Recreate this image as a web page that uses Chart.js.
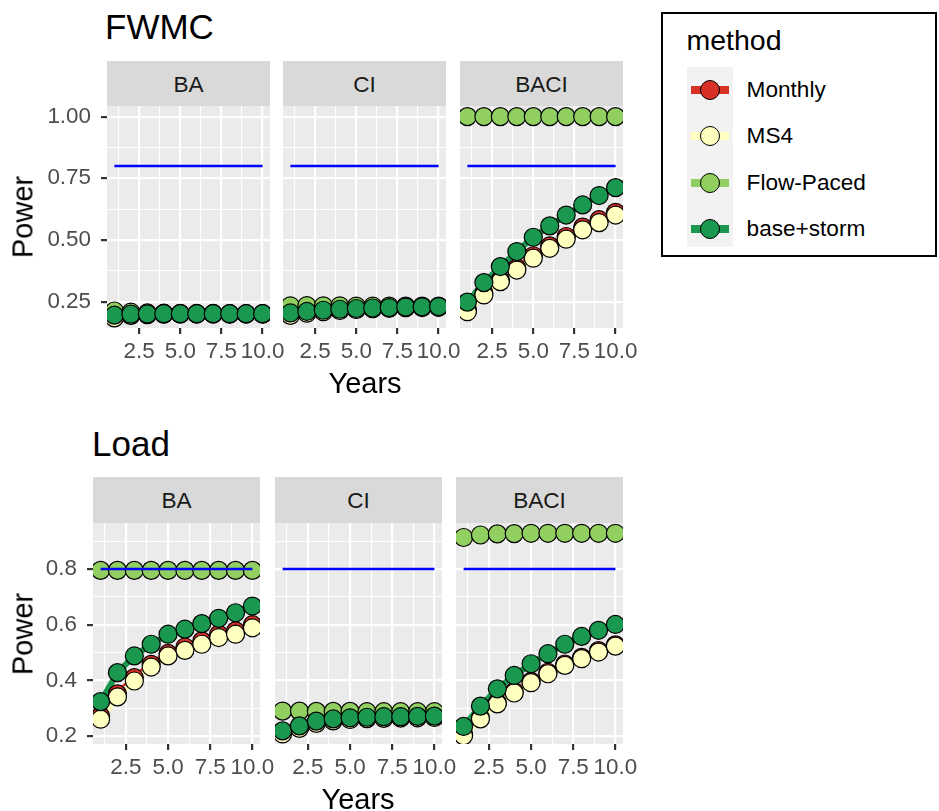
<!DOCTYPE html>
<html>
<head>
<meta charset="utf-8">
<script src="https://cdn.jsdelivr.net/npm/chart.js@4.4.1/dist/chart.umd.min.js"></script>
<style>
  body { margin: 0; width: 939px; height: 811px; position: relative; overflow: hidden; background: #fff;
         font-family: "Liberation Sans", Arial, sans-serif; }
  canvas { position: absolute; }
</style>
</head>
<body>
<script>
const years = [1, 2, 3, 4, 5, 6, 7, 8, 9, 10];
const methods = ["Monthly", "MS4", "Flow-Paced", "base+storm"];
const methodColors = ["#D73027", "#FFFFBF", "#91CF60", "#1A9850"];
const designs = ["BA", "CI", "BACI"];

const yearTicks = [2.5, 5, 7.5, 10];
const yearMinor = [1.25, 3.75, 6.25, 8.75];
const fwmcTicks = [0.25, 0.5, 0.75, 1];
const fwmcMinor = [0.375, 0.625, 0.875];
const loadTicks = [0.2, 0.4, 0.6, 0.8];
const loadMinor = [0.3, 0.5, 0.7, 0.9];

const targetYears = [1, 10];
const targetPower = 0.8;

// rows follow the order of methods
const fwmcBA = [
  [0.187, 0.195, 0.198, 0.200, 0.200, 0.200, 0.200, 0.200, 0.200, 0.200],
  [0.184, 0.194, 0.197, 0.199, 0.200, 0.200, 0.200, 0.200, 0.200, 0.200],
  [0.212, 0.207, 0.204, 0.203, 0.202, 0.202, 0.202, 0.201, 0.201, 0.201],
  [0.195, 0.199, 0.200, 0.201, 0.201, 0.201, 0.201, 0.201, 0.201, 0.201]
];
const fwmcCI = [
  [0.197, 0.205, 0.211, 0.216, 0.219, 0.222, 0.224, 0.226, 0.227, 0.228],
  [0.194, 0.203, 0.209, 0.214, 0.218, 0.221, 0.223, 0.225, 0.226, 0.227],
  [0.233, 0.234, 0.233, 0.233, 0.232, 0.232, 0.232, 0.232, 0.232, 0.232],
  [0.204, 0.210, 0.215, 0.219, 0.222, 0.224, 0.226, 0.228, 0.229, 0.230]
];
const fwmcBACI = [
  [0.215, 0.285, 0.338, 0.386, 0.436, 0.476, 0.514, 0.552, 0.582, 0.612],
  [0.209, 0.277, 0.331, 0.378, 0.426, 0.466, 0.503, 0.541, 0.570, 0.601],
  [1.000, 1.000, 1.000, 1.000, 1.000, 1.000, 1.000, 1.000, 1.000, 1.000],
  [0.248, 0.327, 0.392, 0.453, 0.511, 0.557, 0.601, 0.642, 0.680, 0.712]
];
const loadBA = [
  [0.272, 0.352, 0.410, 0.458, 0.497, 0.520, 0.542, 0.566, 0.578, 0.600],
  [0.261, 0.341, 0.398, 0.448, 0.488, 0.508, 0.530, 0.554, 0.566, 0.589],
  [0.795, 0.795, 0.795, 0.795, 0.795, 0.795, 0.795, 0.795, 0.795, 0.795],
  [0.324, 0.428, 0.488, 0.530, 0.566, 0.584, 0.604, 0.623, 0.643, 0.667]
];
const loadCI = [
  [0.212, 0.232, 0.250, 0.258, 0.262, 0.265, 0.266, 0.267, 0.268, 0.269],
  [0.208, 0.228, 0.246, 0.255, 0.260, 0.263, 0.264, 0.265, 0.266, 0.267],
  [0.290, 0.290, 0.289, 0.289, 0.289, 0.288, 0.288, 0.288, 0.288, 0.288],
  [0.219, 0.237, 0.254, 0.262, 0.266, 0.268, 0.270, 0.270, 0.271, 0.272]
];
const loadBACI = [
  [0.206, 0.266, 0.320, 0.360, 0.397, 0.429, 0.459, 0.483, 0.507, 0.528],
  [0.202, 0.262, 0.316, 0.355, 0.392, 0.424, 0.454, 0.478, 0.502, 0.523],
  [0.913, 0.922, 0.926, 0.927, 0.928, 0.928, 0.928, 0.928, 0.928, 0.928],
  [0.235, 0.308, 0.370, 0.418, 0.460, 0.496, 0.530, 0.558, 0.580, 0.601]
];

const FONT = '"Liberation Sans", Arial, sans-serif';
Chart.defaults.font.family = FONT;

const figures = [
  { title: "FWMC", panels: [fwmcBA, fwmcCI, fwmcBACI], ticks: fwmcTicks, minor: fwmcMinor, digits: 2,
    ymin: 0.143, ymax: 1.043, lefts: [107, 283, 460], w: 163, top: 106, h: 222,
    stripTop: 61, titleLeft: 105, titleTop: 9, yearsY: 383.3 },
  { title: "Load", panels: [loadBA, loadCI, loadBACI], ticks: loadTicks, minor: loadMinor, digits: 1,
    ymin: 0.172, ymax: 0.965, lefts: [93, 275, 456], w: 167, top: 523, h: 221,
    stripTop: 477, titleLeft: 92, titleTop: 426, yearsY: 799.3 }
];

function addDiv(txt, css) {
  const d = document.createElement("div");
  d.textContent = txt;
  d.style.cssText = "position:absolute;white-space:nowrap;line-height:1;" + css;
  document.body.appendChild(d);
  return d;
}

function tickBuilder(majors, minors) {
  return scale => {
    scale.ticks = majors.map(v => ({ value: v, minor: false }))
      .concat(minors.map(v => ({ value: v, minor: true })))
      .sort((a, b) => a.value - b.value);
  };
}

const panelBg = {
  id: "panelBg",
  beforeDraw(chart) {
    const a = chart.chartArea;
    chart.ctx.save();
    chart.ctx.fillStyle = "#EBEBEB";
    chart.ctx.fillRect(a.left, a.top, a.right - a.left, a.bottom - a.top);
    chart.ctx.restore();
  }
};

const MR = 26, XH = 52;

function gridOpts(drawTicks) {
  return {
    color: "#FFFFFF",
    lineWidth: c => (c.tick && c.tick.minor ? 1.1 : 2.2),
    drawTicks: drawTicks,
    tickLength: 6,
    tickColor: c => (c.tick && c.tick.minor ? "rgba(0,0,0,0)" : "#333333"),
    tickWidth: 2.2
  };
}

function makePanel(fig, p) {
  const left = fig.lefts[p];
  const yw = p === 0 ? left : 0;
  const cv = document.createElement("canvas");
  cv.width = yw + fig.w + MR;
  cv.height = fig.h + XH;
  cv.style.left = (left - yw) + "px";
  cv.style.top = fig.top + "px";
  cv.style.width = cv.width + "px";
  cv.style.height = cv.height + "px";
  document.body.appendChild(cv);

  const rows = fig.panels[p];
  const datasets = [{
    data: targetYears.map(x => ({ x: x, y: targetPower })),
    borderColor: "#0000FF", borderWidth: 2.6, pointRadius: 0, order: 0
  }];
  rows.forEach((vals, m) => {
    const pts = years.map((x, i) => ({ x: x, y: vals[i] }));
    datasets.push({
      data: pts, showLine: false, pointRadius: 9,
      pointBackgroundColor: methodColors[m], pointBorderColor: "#000000", pointBorderWidth: 1.2,
      order: 4 - m
    });
    datasets.push({
      data: pts, borderColor: methodColors[m], borderWidth: 6, pointRadius: 0, order: 8 - m
    });
  });

  new Chart(cv.getContext("2d"), {
    type: "line",
    data: { datasets: datasets },
    options: {
      responsive: false,
      animation: false,
      devicePixelRatio: 1,
      layout: { autoPadding: false, padding: { left: 0, top: 0, right: MR, bottom: 0 } },
      plugins: { legend: { display: false }, tooltip: { enabled: false } },
      elements: { line: { tension: 0 } },
      scales: {
        x: {
          type: "linear", min: 0.55, max: 10.45,
          afterBuildTicks: tickBuilder(yearTicks, yearMinor),
          afterFit: s => { s.height = XH; s.paddingLeft = 0; s.paddingRight = 0; },
          grid: gridOpts(true),
          border: { display: false },
          ticks: {
            autoSkip: false, maxRotation: 0, minRotation: 0, padding: 4,
            color: "#4D4D4D", font: { size: 22.4 },
            callback: (v, i, t) => (t[i].minor ? "" : v.toFixed(1))
          }
        },
        y: {
          type: "linear", min: fig.ymin, max: fig.ymax,
          afterBuildTicks: tickBuilder(fig.ticks, fig.minor),
          afterFit: s => { s.width = yw; s.paddingTop = 0; s.paddingBottom = 0; },
          grid: gridOpts(p === 0),
          border: { display: false },
          ticks: {
            display: p === 0, autoSkip: false, padding: 10,
            color: "#4D4D4D", font: { size: 22.4 },
            callback: (v, i, t) => (t[i].minor ? "" : v.toFixed(fig.digits))
          }
        }
      }
    },
    plugins: [panelBg]
  });
}

figures.forEach(fig => {
  for (let p = 0; p < 3; p++) makePanel(fig, p);
  const sh = fig.top - fig.stripTop;
  designs.forEach((d, p) => {
    addDiv(d, `left:${fig.lefts[p]}px;top:${fig.stripTop}px;width:${fig.w}px;height:${sh}px;` +
      `line-height:${sh + 2}px;text-align:center;background:#D9D9D9;color:#1A1A1A;font-size:22.6px`);
  });
  addDiv(fig.title, `left:${fig.titleLeft}px;top:${fig.titleTop}px;font-size:35px;color:#000`);
  addDiv("Power", `left:23px;top:${fig.top + fig.h / 2}px;font-size:29px;color:#000;` +
    `transform:translate(-50%,-50%) rotate(-90deg)`);
  const cx = (fig.lefts[0] + fig.lefts[2] + fig.w) / 2;
  addDiv("Years", `left:${cx}px;top:${fig.yearsY}px;font-size:29px;color:#000;transform:translate(-50%,-50%)`);
});

// legend
addDiv("", "left:661px;top:12px;width:276px;height:245px;border:2px solid #000;box-sizing:border-box");
addDiv("method", "left:686.5px;top:26px;font-size:28.5px;color:#000");
addDiv("", "left:687px;top:67px;width:46px;height:180px;background:#F2F2F2");
methods.forEach((m, i) => {
  const c = 89.5 + i * 46.5;
  addDiv("", `left:691px;top:${c - 4}px;width:38px;height:8px;background:${methodColors[i]}`);
  addDiv("", `left:${710 - 10}px;top:${c - 10}px;width:20px;height:20px;border-radius:50%;` +
    `background:${methodColors[i]};border:1.2px solid #000;box-sizing:border-box`);
  addDiv(m, `left:746.6px;top:${c}px;font-size:22.6px;color:#000;transform:translateY(-50%)`);
});
</script>
</body>
</html>
